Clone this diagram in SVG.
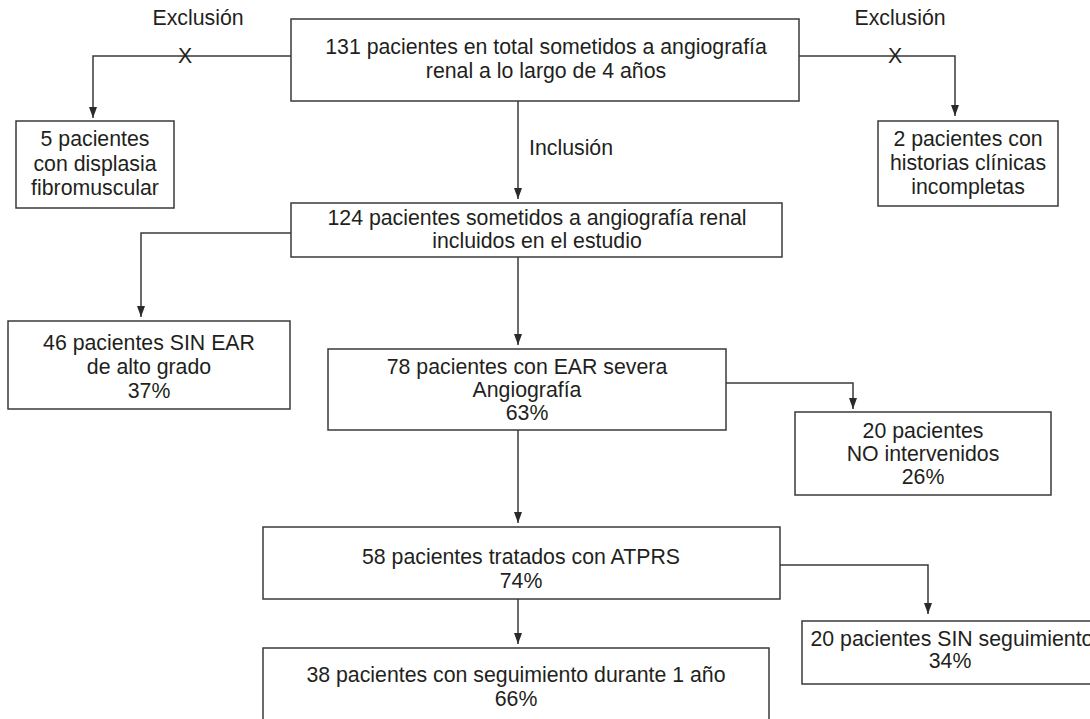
<svg xmlns="http://www.w3.org/2000/svg" width="1090" height="719" viewBox="0 0 1090 719">
<style>
.box{fill:#fff;stroke:#3a3a3a;stroke-width:1.5}
.t{font-family:"Liberation Sans",Arial,sans-serif;font-size:21.3px;fill:#231f20;text-anchor:middle}
.l{font-family:"Liberation Sans",Arial,sans-serif;font-size:21.3px;fill:#231f20}
.c{fill:none;stroke:#3a3a3a;stroke-width:1.5}
</style>
<defs>
<marker id="ah" markerUnits="userSpaceOnUse" markerWidth="11" markerHeight="9" refX="11" refY="4" orient="auto" viewBox="0 0 11 8">
<path d="M0,0 L11,4 L0,8 z" fill="#2a2a2a"/>
</marker>
</defs>
<rect width="1090" height="719" fill="#fff"/>
<g id="connectors">
<path class="c" d="M291,56 H93 V118" marker-end="url(#ah)"/>
<path class="c" d="M799,56 H955 V116" marker-end="url(#ah)"/>
<path class="c" d="M518,101 V199" marker-end="url(#ah)"/>
<path class="c" d="M291,233 H141 V317" marker-end="url(#ah)"/>
<path class="c" d="M518,257 V345" marker-end="url(#ah)"/>
<path class="c" d="M726,383 H853 V409" marker-end="url(#ah)"/>
<path class="c" d="M518,430 V523" marker-end="url(#ah)"/>
<path class="c" d="M780,565 H928 V614" marker-end="url(#ah)"/>
<path class="c" d="M518,599 V644" marker-end="url(#ah)"/>
<text class="t" x="185" y="63">X</text>
<text class="t" x="895" y="63">X</text>
<text class="t" x="198" y="25">Exclusión</text>
<text class="t" x="900" y="25">Exclusión</text>
<text class="l" x="529" y="155">Inclusión</text>
</g>
<g id="n1">
<rect class="box" x="291" y="19" width="508" height="82"/>
<text class="t" x="546" y="54">131 pacientes en total sometidos a angiografía</text>
<text class="t" x="546" y="78">renal a lo largo de 4 años</text>
</g>
<g id="n2">
<rect class="box" x="16" y="121" width="158" height="87"/>
<text class="t" x="95" y="146">5 pacientes</text>
<text class="t" x="95" y="171">con displasia</text>
<text class="t" x="95" y="195">fibromuscular</text>
</g>
<g id="n3">
<rect class="box" x="878" y="121" width="180" height="85"/>
<text class="t" x="968" y="146">2 pacientes con</text>
<text class="t" x="968" y="170">historias clínicas</text>
<text class="t" x="968" y="194">incompletas</text>
</g>
<g id="n4">
<rect class="box" x="291" y="203" width="491" height="54"/>
<text class="t" x="537" y="225">124 pacientes sometidos a angiografía renal</text>
<text class="t" x="537" y="248">incluidos en el estudio</text>
</g>
<g id="n5">
<rect class="box" x="8" y="321" width="282" height="88"/>
<text class="t" x="149" y="350">46 pacientes SIN EAR</text>
<text class="t" x="149" y="374">de alto grado</text>
<text class="t" x="149" y="398">37%</text>
</g>
<g id="n6">
<rect class="box" x="328" y="349" width="398" height="81"/>
<text class="t" x="527" y="374">78 pacientes con EAR severa</text>
<text class="t" x="527" y="397">Angiografía</text>
<text class="t" x="527" y="420">63%</text>
</g>
<g id="n7">
<rect class="box" x="795" y="412" width="256" height="83"/>
<text class="t" x="923" y="438">20 pacientes</text>
<text class="t" x="923" y="461">NO intervenidos</text>
<text class="t" x="923" y="484">26%</text>
</g>
<g id="n8">
<rect class="box" x="263" y="527" width="517" height="72"/>
<text class="t" x="521" y="564">58 pacientes tratados con ATPRS</text>
<text class="t" x="521" y="588">74%</text>
</g>
<g id="n9">
<rect class="box" x="802" y="621" width="296" height="63"/>
<text class="t" x="952" y="646">20 pacientes SIN seguimiento</text>
<text class="t" x="950" y="668">34%</text>
</g>
<g id="n10">
<rect class="box" x="263" y="648" width="506" height="100"/>
<text class="t" x="516" y="682">38 pacientes con seguimiento durante 1 año</text>
<text class="t" x="516" y="706">66%</text>
</g>
</svg>
